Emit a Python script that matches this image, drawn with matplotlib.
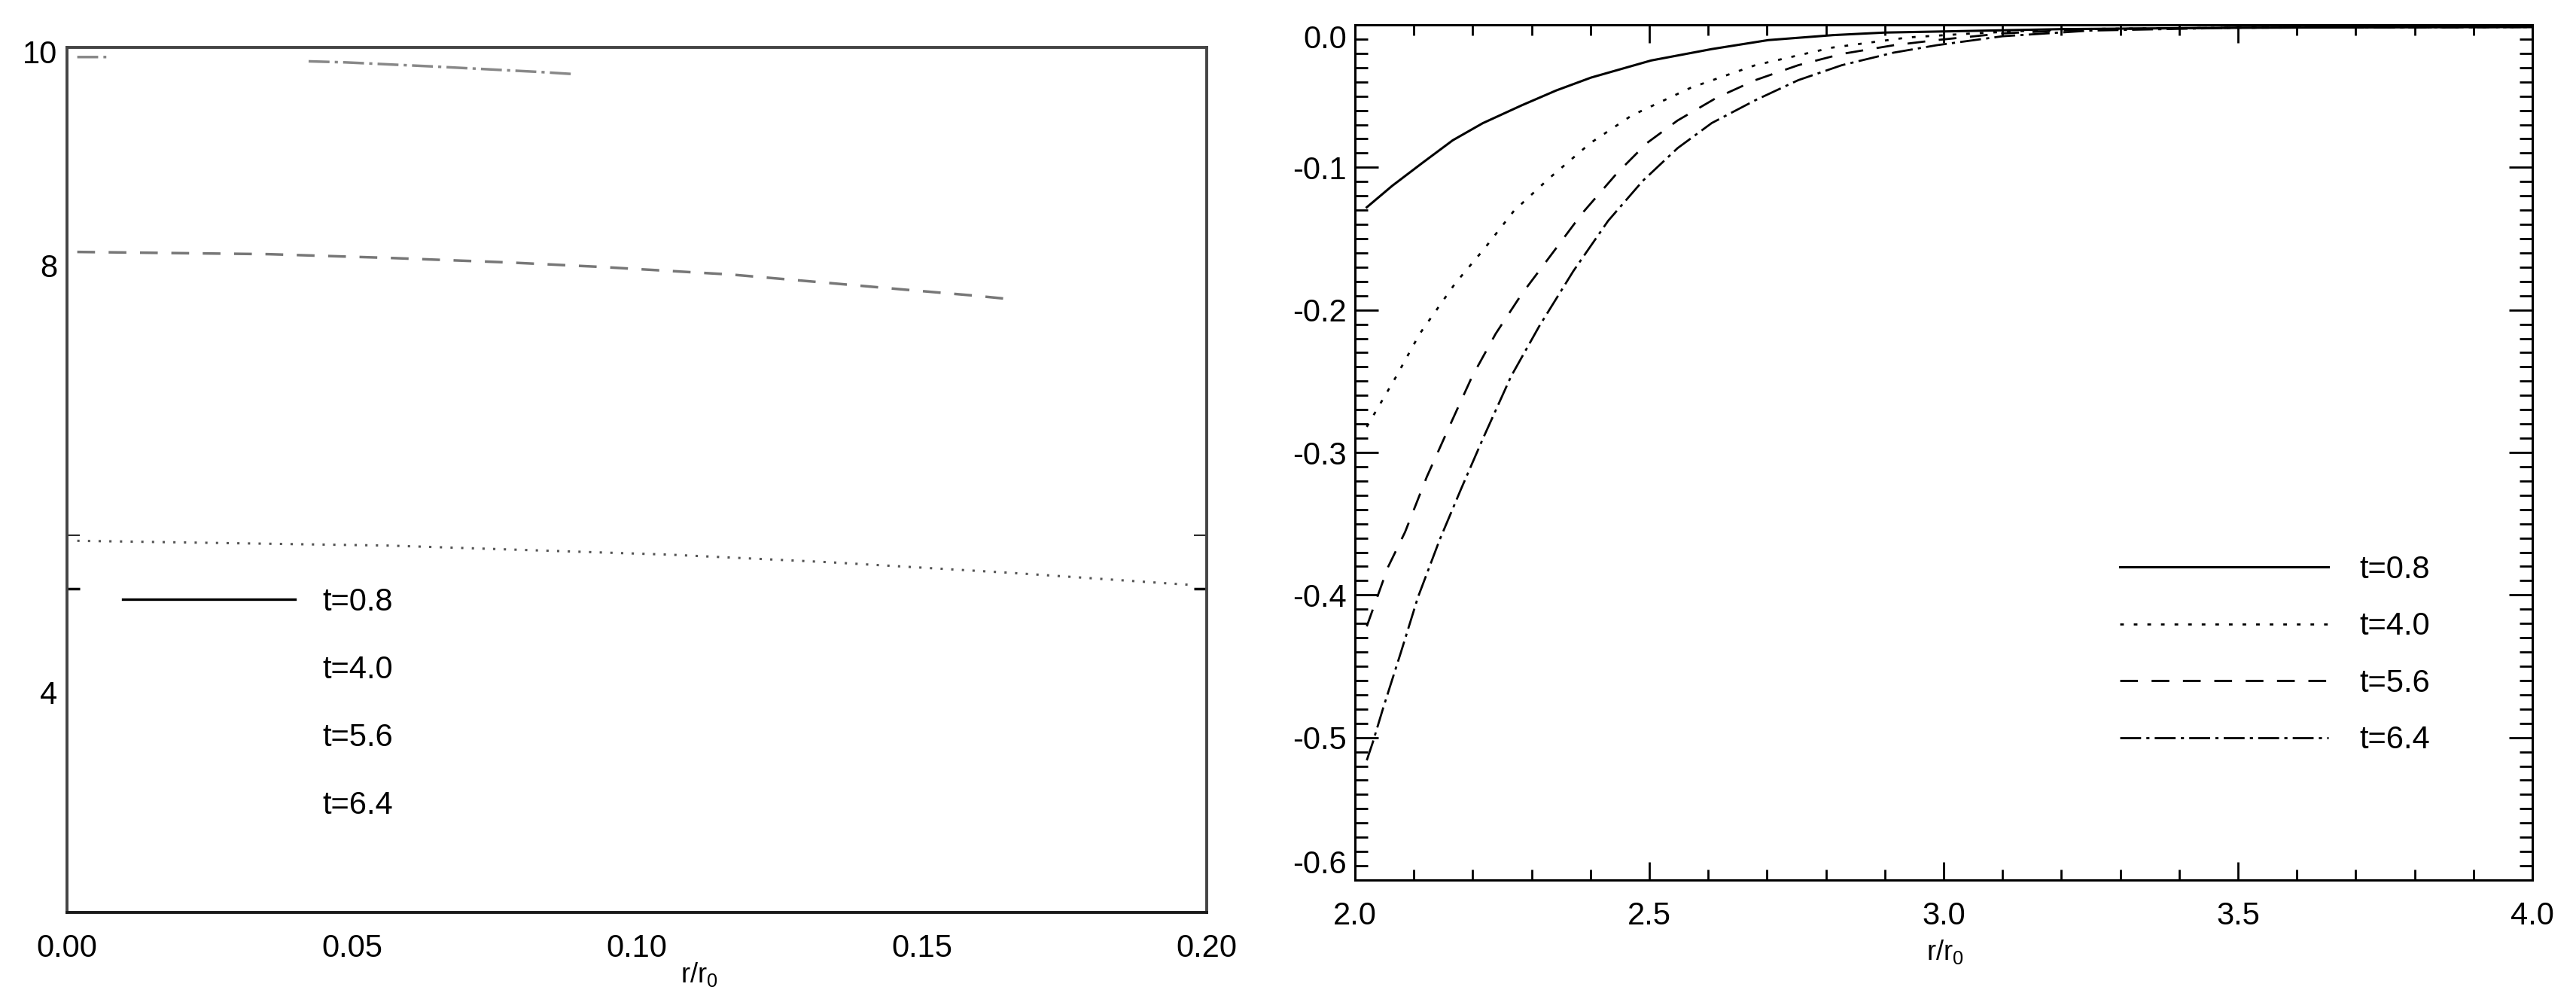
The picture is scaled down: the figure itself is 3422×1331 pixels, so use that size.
import numpy as np
import matplotlib
matplotlib.use('Agg')
import matplotlib.pyplot as plt
from matplotlib.lines import Line2D
from matplotlib.ticker import MultipleLocator, FixedLocator, FormatStrFormatter

plt.rcParams['font.family'] = ['Liberation Sans', 'DejaVu Sans']
plt.rcParams['mathtext.fontset'] = 'custom'
plt.rcParams['mathtext.rm'] = 'Liberation Sans'
plt.rcParams['mathtext.it'] = 'Liberation Sans:italic'
plt.rcParams['axes.unicode_minus'] = False
plt.rcParams['lines.scale_dashes'] = False

labels = ['t=0.8', 't=4.0', 't=5.6', 't=6.4']

# left panel (r/r0 from 0 to 0.2)
left_dot_x = [0.0018, 0.0565, 0.1058, 0.1335, 0.1656, 0.1977]
left_dot_y = [5.42, 5.375, 5.29, 5.22, 5.12, 5.005]
left_dash_x = [0.0018, 0.0353, 0.0565, 0.0777, 0.0939, 0.1166, 0.1318, 0.1470, 0.1592, 0.1645]
left_dash_y = [8.125, 8.104, 8.069, 8.026, 7.984, 7.913, 7.843, 7.772, 7.716, 7.688]
left_dd_x = [0.0018, 0.0069, np.nan, 0.0424, 0.0489, 0.0649, 0.0830, 0.0890]
left_dd_y = [9.95, 9.95, np.nan, 9.91, 9.90, 9.86, 9.81, 9.79]

# right panel (r/r0 from 2 to 4)
r08_x = [2.02, 2.063, 2.114, 2.166, 2.217, 2.283, 2.342, 2.401, 2.503, 2.606, 2.702,
         2.812, 2.900, 3.003, 3.2, 3.5, 4.0]
r08_y = [-0.128, -0.113, -0.097, -0.081, -0.069, -0.0565, -0.046, -0.037, -0.025, -0.017,
         -0.0107, -0.0072, -0.0054, -0.0046, -0.003, -0.002, -0.0015]
r40_x = [2.02, 2.07, 2.11, 2.17, 2.22, 2.27, 2.33, 2.40, 2.47, 2.57, 2.68, 2.81, 2.94,
         3.05, 3.2, 3.5, 4.0]
r40_y = [-0.282, -0.2467, -0.2167, -0.1815, -0.1569, -0.1305, -0.1076, -0.0829, -0.0636,
         -0.0442, -0.0283, -0.016, -0.0088, -0.006, -0.003, -0.002, -0.0015]
r56_x = [2.02, 2.056, 2.085, 2.122, 2.166, 2.199, 2.239, 2.283, 2.335, 2.386, 2.445, 2.496,
         2.548, 2.614, 2.680, 2.753, 2.827, 2.915, 2.988, 3.1, 3.25, 3.5, 4.0]
r56_y = [-0.422, -0.3805, -0.3559, -0.3171, -0.2766, -0.2467, -0.2167, -0.189, -0.1604,
         -0.1322, -0.1041, -0.0829, -0.0671, -0.0512, -0.0388, -0.0283, -0.0204, -0.0143,
         -0.0107, -0.006, -0.003, -0.002, -0.0015]
r64_x = [2.02, 2.030, 2.048, 2.078, 2.107, 2.144, 2.180, 2.217, 2.265, 2.313, 2.371, 2.430,
         2.489, 2.548, 2.606, 2.680, 2.753, 2.827, 2.915, 2.988, 3.1, 3.25, 3.5, 4.0]
r64_y = [-0.516, -0.5037, -0.4791, -0.4402, -0.4015, -0.3611, -0.3258, -0.2906, -0.2467,
         -0.2114, -0.1727, -0.1375, -0.1094, -0.0865, -0.0689, -0.0529, -0.0388, -0.0283,
         -0.0195, -0.0143, -0.008, -0.004, -0.002, -0.0015]

dotted = (0, (3.5, 9.5))
dashed = (0, (17, 13))
dashdot = (0, (20, 5, 3, 5))

fig = plt.figure(figsize=(34.22, 13.31), dpi=100)
ax1 = fig.add_axes([0.02601, 0.08941, 0.44243, 0.86326])
ax2 = fig.add_axes([0.52601, 0.12171, 0.45704, 0.85349])

# ---- left
ax1.plot(left_dot_x, left_dot_y, color='#555555', lw=2.2, linestyle=(0, (2.2, 8)))
ax1.plot(left_dash_x, left_dash_y, color='#777777', lw=2.5, linestyle=dashed)
ax1.plot(left_dd_x, left_dd_y, color='#888888', lw=2.5, linestyle=dashdot)

ax1.set_xlim(0, 0.2)
ax1.set_ylim(1.94, 10.04)
ax1.set_xticks([0, 0.05, 0.10, 0.15, 0.20])
ax1.xaxis.set_major_formatter(FormatStrFormatter('%.2f'))
ax1.set_yticks([4, 8, 10])
ax1.set_yticklabels(['4', '8', '10'])
ax1.tick_params(which='major', length=0, labelsize=30)
ax1.tick_params(axis='x', pad=20)
ax1.tick_params(axis='y', pad=9)
ax1.yaxis.set_minor_locator(FixedLocator([4.97, 5.47]))
ax1.tick_params(axis='y', which='minor', direction='in', length=12, width=2.5,
                left=True, right=True, color='k')
for s in ax1.spines.values():
    s.set_color('#444444')
    s.set_linewidth(2.8)
ax1.spines['bottom'].set_color('#1a1a1a')
ax1.set_xlabel('r/r$_0$', fontsize=26)
ax1.xaxis.set_label_coords(0.555, -0.056)

left_handles = [Line2D([], [], color='k', lw=2.4)] + \
    [Line2D([], [], color='none') for _ in range(3)]
ax1.legend(left_handles, labels, loc='upper left', bbox_to_anchor=(0.0489, 0.376),
           frameon=False, fontsize=30, handlelength=5.5, handletextpad=0.86,
           labelspacing=1.2, borderpad=0, borderaxespad=0)

# ---- right
ax2.plot(r08_x, r08_y, color='k', lw=2.2, linestyle='-', label=labels[0])
ax2.plot(r40_x, r40_y, color='k', lw=2, linestyle=dotted, label=labels[1])
ax2.plot(r56_x, r56_y, color='k', lw=2, linestyle=dashed, label=labels[2])
ax2.plot(r64_x, r64_y, color='k', lw=2, linestyle=dashdot, label=labels[3])

ax2.set_xlim(2, 4)
ax2.set_ylim(-0.6, 0.0)
ax2.set_xticks([2.0, 2.5, 3.0, 3.5, 4.0])
ax2.set_yticks([-0.6, -0.5, -0.4, -0.3, -0.2, -0.1, 0.0])
ax2.xaxis.set_minor_locator(MultipleLocator(0.1))
ax2.yaxis.set_minor_locator(MultipleLocator(0.01))
ax2.xaxis.set_major_formatter(FormatStrFormatter('%.1f'))
ax2.yaxis.set_major_formatter(FormatStrFormatter('%.1f'))
ax2.tick_params(which='both', direction='in', top=True, right=True, width=2,
                color='k', labelsize=30)
ax2.tick_params(axis='x', which='major', length=17, pad=20)
ax2.tick_params(axis='x', which='minor', length=10)
ax2.tick_params(axis='y', which='major', length=22, pad=8)
ax2.tick_params(axis='y', which='minor', length=12)
for s in ax2.spines.values():
    s.set_color('k')
    s.set_linewidth(2.2)
ax2.set_xlabel('r/r$_0$', fontsize=26)
ax2.xaxis.set_label_coords(0.501, -0.068)

ax2.legend(loc='upper left', bbox_to_anchor=(0.6496, 0.3803), frameon=False,
           fontsize=30, handlelength=6.65, handletextpad=1.0, labelspacing=0.85,
           borderpad=0, borderaxespad=0)

fig.canvas.draw()
minor = ax1.yaxis.get_minor_ticks()
for line in (minor[1].tick1line, minor[1].tick2line):
    line.set_color('#999999')
    line.set_markeredgewidth(1.2)
ylabs = ax2.get_yticklabels()
ylabs[0].set_va('bottom')
ylabs[-1].set_va('top')

fig.savefig('out.png', dpi=100)
